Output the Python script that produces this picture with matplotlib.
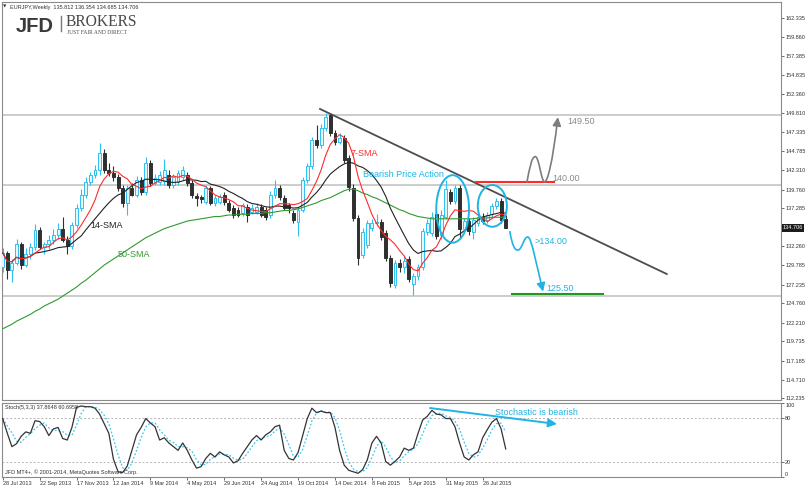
import numpy as np
import pandas as pd
import matplotlib
matplotlib.use('Agg')
import matplotlib.pyplot as plt
import matplotlib.transforms as mtransforms
from matplotlib.patches import Ellipse, FancyArrowPatch
from matplotlib.path import Path
from matplotlib.lines import Line2D
from matplotlib import font_manager


# EURJPY weekly candles, first bar = week of 28 Jul 2013
opens = [129.6, 131.4, 129.2, 130.1, 132.6, 129.8, 131.3, 132.2, 134.4, 132.2,
         132.6, 133.1, 133.8, 134.6, 133.1, 132.3, 135.1, 137.3, 139.1, 140.8,
         141.7, 142.3, 144.6, 142.3, 142.0, 141.4, 140.0, 138.0, 139.9, 139.1,
         141.0, 139.4, 143.2, 140.6, 140.8, 140.9, 141.7, 140.4, 140.8, 141.4,
         141.7, 140.6, 138.9, 138.8, 138.1, 139.9, 138.0, 138.1, 139.0, 138.0,
         137.3, 137.1, 136.7, 137.4, 136.8, 136.8, 137.4, 137.1, 136.4, 139.0,
         140.0, 138.7, 137.7, 136.7, 135.5, 137.1, 141.0, 142.8, 146.3, 145.6,
         147.9, 149.6, 147.2, 146.0, 146.6, 143.9, 140.0, 136.0, 131.1, 132.5,
         134.7, 135.3, 135.5, 134.0, 130.7, 127.2, 130.1, 129.5, 130.6, 127.3,
         128.3, 129.6, 134.2, 134.0, 136.5, 133.7, 136.2, 139.4, 138.3, 140.0,
         134.5, 135.6, 134.2, 135.4, 136.2, 135.7, 136.5, 137.6, 138.2, 135.812]
highs = [132.1, 131.6, 130.6, 133.2, 132.9, 132.0, 132.7, 135.2, 134.8, 132.9,
         133.7, 134.5, 135.3, 136.2, 133.6, 135.5, 137.8, 139.8, 141.4, 142.1,
         143.0, 145.9, 145.1, 143.3, 142.8, 141.8, 140.4, 140.4, 140.6, 141.5,
         141.4, 144.0, 143.6, 141.8, 142.2, 143.8, 142.3, 141.8, 142.3, 142.9,
         142.1, 141.0, 139.3, 139.1, 140.3, 140.2, 139.0, 139.2, 139.4, 138.4,
         137.7, 137.4, 138.0, 137.8, 137.8, 138.0, 137.8, 137.4, 139.5, 141.0,
         140.4, 139.0, 138.0, 137.1, 137.5, 141.4, 143.2, 146.7, 148.3, 148.4,
         149.8, 149.9, 147.6, 147.2, 147.0, 144.3, 140.5, 136.4, 134.7, 135.8,
         135.9, 136.5, 135.9, 134.4, 131.1, 130.5, 130.6, 131.0, 131.0, 128.8,
         130.0, 134.7, 135.9, 136.8, 137.0, 137.0, 141.0, 139.8, 140.4, 140.4,
         136.0, 136.0, 136.2, 136.6, 136.6, 136.8, 138.0, 138.6, 138.6, 136.354]
lows = [128.9, 128.0, 127.6, 129.8, 129.3, 129.5, 130.6, 131.8, 131.9, 131.2,
        131.9, 132.6, 133.3, 132.8, 131.2, 131.9, 134.7, 136.9, 138.7, 140.4,
        141.3, 141.7, 141.9, 141.6, 140.9, 139.6, 137.4, 136.4, 138.9, 138.8,
        139.0, 139.0, 140.2, 140.3, 140.4, 140.3, 140.0, 140.0, 140.4, 141.0,
        140.2, 138.6, 137.6, 138.0, 137.8, 137.7, 137.6, 137.8, 137.7, 136.8,
        136.0, 136.1, 136.3, 135.5, 136.5, 136.5, 136.1, 135.8, 136.0, 138.6,
        138.4, 137.0, 136.6, 135.3, 133.6, 136.8, 140.6, 142.4, 145.2, 145.2,
        147.5, 146.8, 145.6, 145.7, 143.3, 139.6, 135.6, 129.8, 130.7, 132.1,
        134.3, 134.9, 133.1, 130.3, 126.9, 126.8, 128.9, 128.8, 127.6, 125.9,
        127.8, 129.2, 133.7, 133.6, 133.2, 133.2, 135.9, 137.8, 137.9, 133.4,
        134.0, 133.8, 133.2, 135.0, 135.2, 135.3, 136.1, 137.2, 135.4, 134.685]
closes = [131.4, 129.2, 130.1, 132.6, 129.8, 131.3, 132.2, 134.4, 132.2, 132.6,
          133.1, 133.8, 134.6, 133.1, 132.3, 135.1, 137.3, 139.1, 140.8, 141.7,
          142.3, 144.6, 142.3, 142.0, 141.4, 140.0, 138.0, 139.9, 139.1, 141.0,
          139.4, 143.2, 140.6, 141.3, 141.7, 142.3, 140.4, 141.4, 141.9, 142.3,
          140.6, 139.0, 138.7, 138.5, 139.9, 138.0, 138.6, 138.8, 138.1, 137.1,
          136.4, 136.4, 137.7, 136.4, 137.3, 137.5, 136.4, 136.2, 139.0, 140.0,
          138.8, 137.3, 137.3, 135.7, 137.1, 141.0, 142.8, 146.3, 145.6, 147.9,
          149.3, 147.2, 146.0, 146.6, 143.7, 140.1, 136.0, 130.7, 134.2, 135.3,
          135.3, 135.5, 133.5, 130.7, 127.4, 130.1, 129.5, 130.3, 128.0, 128.4,
          129.6, 134.3, 135.4, 136.2, 133.6, 136.4, 139.8, 138.2, 140.0, 134.6,
          135.6, 134.3, 135.8, 136.2, 135.6, 136.4, 137.6, 138.2, 135.8, 134.706]

# 50-week SMA as it reads off the chart (its history starts before the first bar)
sma50 = [121.4, 121.7, 122.0, 122.4, 122.7, 123.0, 123.3, 123.7, 124.0, 124.4,
         124.7, 125.0, 125.3, 125.7, 126.1, 126.5, 126.9, 127.4, 127.8, 128.3,
         128.8, 129.3, 129.8, 130.2, 130.6, 131.0, 131.4, 131.8, 132.2, 132.6,
         133.0, 133.4, 133.7, 134.0, 134.3, 134.6, 134.8, 135.0, 135.2, 135.4,
         135.6, 135.7, 135.8, 135.9, 136.0, 136.1, 136.2, 136.2, 136.3, 136.4,
         136.4, 136.5, 136.5, 136.5, 136.6, 136.6, 136.6, 136.7, 136.7, 136.8,
         136.9, 137.0, 137.0, 137.1, 137.2, 137.4, 137.6, 137.8, 138.0, 138.3,
         138.5, 138.7, 139.0, 139.3, 139.6, 139.8, 139.8, 139.6, 139.3, 139.1,
         138.8, 138.6, 138.3, 138.0, 137.7, 137.4, 137.1, 136.9, 136.6, 136.4,
         136.2, 136.1, 136.0, 135.9, 135.9, 135.9, 135.9, 135.9, 135.9, 135.9,
         135.9, 135.9, 135.9, 136.0, 136.0, 136.0, 136.1, 136.1, 136.1, 136.2]

# Stochastic(5,3,3) main line
stoch_k = [79, 59, 41, 45, 55, 61, 59, 76, 75, 68,
           56, 65, 67, 52, 50, 67, 94, 96, 95, 95,
           93, 85, 72, 59, 24, 7, 6, 15, 36, 57,
           67, 79, 73, 68, 50, 53, 46, 41, 36, 46,
           36, 23, 12, 14, 25, 32, 27, 34, 30, 27,
           19, 22, 32, 41, 50, 56, 50, 57, 61, 68,
           70, 36, 25, 23, 33, 56, 79, 93, 87, 89,
           87, 87, 67, 36, 16, 9, 7, 5, 10, 23,
           46, 55, 46, 21, 16, 21, 27, 39, 36, 39,
           59, 77, 82, 90, 85, 84, 79, 79, 68, 46,
           27, 23, 30, 34, 53, 64, 74, 79, 65, 37.8648]
stoch_d_last = 60.6958

date_labels = ['28 Jul 2013', '22 Sep 2013', '17 Nov 2013', '12 Jan 2014', '9 Mar 2014',
               '4 May 2014', '29 Jun 2014', '24 Aug 2014', '19 Oct 2014', '14 Dec 2014',
               '8 Feb 2015', '5 Apr 2015', '31 May 2015', '26 Jul 2015']
price_ticks = [162.335, 159.860, 157.385, 154.835, 152.360, 149.810, 147.335, 144.785,
               142.310, 139.760, 137.285, 132.260, 129.785, 127.235, 124.760, 122.210,
               119.735, 117.185, 114.710, 112.235]
levels = [149.6, 140.35, 125.75]
last_price = 134.706

CYAN = '#1eb4e6'
BULL_EDGE = '#2ec0ef'
BULL_FILL = '#e4f7fd'
BEAR = '#303030'
W, H = 806, 488

names = {f.name for f in font_manager.fontManager.ttflist}
if 'Liberation Sans Narrow' in names:
    SMALL_FONT, SMALL, LOGO_FONT, LOGO = 'Liberation Sans Narrow', 4.8, 'Liberation Sans Narrow', 17.5
else:
    SMALL_FONT, SMALL, LOGO_FONT, LOGO = 'Liberation Sans', 4.0, 'Liberation Sans', 14.5
ANNO = 6.5
plt.rcParams['font.family'] = ['Liberation Sans', 'DejaVu Sans']


def rect(x0, y0, x1, y1):
    return [x0 / W, 1 - y1 / H, (x1 - x0) / W, (y1 - y0) / H]


def arrow(ax, path=None, posA=None, posB=None, color=CYAN, lw=1.2):
    style = '-|>,head_length=5,head_width=2.5'
    if path is not None:
        p = FancyArrowPatch(path=path, arrowstyle=style, color=color, lw=lw,
                            transform=ax.transData, zorder=7)
    else:
        p = FancyArrowPatch(posA, posB, arrowstyle=style, color=color, lw=lw,
                            shrinkA=0, shrinkB=0, mutation_scale=1, zorder=7)
    ax.add_patch(p)


def style_axes(ax):
    for spine in ax.spines.values():
        spine.set_color('#8a8a8a')
        spine.set_linewidth(0.8)
    ax.yaxis.tick_right()
    ax.tick_params(axis='y', direction='out', length=2, width=0.6, color='#555555',
                   pad=1, labelsize=SMALL, labelcolor='#333333')
    for lab in ax.get_yticklabels():
        lab.set_fontfamily(SMALL_FONT)


def draw_candles(ax):
    x = np.arange(len(closes))
    o = np.array(opens)
    h = np.array(highs)
    l = np.array(lows)
    c = np.array(closes)
    up = c >= o
    body_lo = np.minimum(o, c)
    body_h = np.maximum(np.abs(c - o), 0.08)

    ax.vlines(x[up], l[up], h[up], color=BULL_EDGE, lw=0.8, zorder=3)
    ax.vlines(x[~up], l[~up], h[~up], color=BEAR, lw=0.8, zorder=3)
    ax.bar(x[up], body_h[up], bottom=body_lo[up], width=0.62, color=BULL_FILL,
           edgecolor=BULL_EDGE, lw=0.7, zorder=4)
    ax.bar(x[~up], body_h[~up], bottom=body_lo[~up], width=0.62, color=BEAR,
           edgecolor=BEAR, lw=0.7, zorder=4)


def draw_main(ax):
    ax.set_xlim(-0.26, 168.65)
    ax.set_ylim(112.01, 164.48)

    for lv in levels:
        ax.axhline(lv, color='#c4c4c4', lw=1.2, zorder=1)

    draw_candles(ax)

    x = np.arange(len(closes))
    s = pd.Series(closes)
    ax.plot(x, sma50, color='#2f9a2f', lw=0.8, zorder=5)
    ax.plot(x, s.rolling(14, min_periods=1).mean(), color='#222222', lw=0.8, zorder=5)
    ax.plot(x, s.rolling(7, min_periods=1).mean(), color='#ff2b2b', lw=0.8, zorder=5)

    # price axis
    ax.set_xticks([])
    ax.set_yticks(price_ticks)
    ax.set_yticklabels([f'{v:.3f}' for v in price_ticks])
    style_axes(ax)
    tr = mtransforms.blended_transform_factory(ax.transAxes, ax.transData)
    ax.text(1.0025, last_price, f'{last_price:.3f}', transform=tr, ha='left', va='center',
            fontsize=SMALL, family=SMALL_FONT, color='white', zorder=10, clip_on=False,
            bbox=dict(facecolor='#1c1c1c', edgecolor='none', pad=0.9))

    # drawings
    ax.plot([68.75, 143.9], [150.38, 128.62], color='#4d4d4d', lw=1.3, zorder=6)
    ax.plot([102.6, 119.5], [140.75, 140.75], color='#ff2b2b', lw=1.5, zorder=6)
    ax.plot([110.4, 130.1], [125.95, 125.95], color='#1f9a1f', lw=1.5, zorder=6)

    ax.add_patch(Ellipse((97.5, 137.2), 7.1, 8.9, fill=False, ec=CYAN, lw=1.4, zorder=7))
    ax.add_patch(Ellipse((106.1, 137.6), 6.3, 5.5, fill=False, ec=CYAN, lw=1.4, zorder=7))

    C4 = Path.CURVE4
    gray_path = Path([(113.6, 140.75),
                      (114.2, 142.6), (114.6, 144.1), (115.4, 144.1),
                      (116.2, 144.1), (116.6, 141.2), (117.3, 140.8),
                      (118.0, 140.4), (119.2, 143.5), (120.3, 149.3)],
                     [Path.MOVETO] + [C4] * 9)
    arrow(ax, path=gray_path, color='#7d7d7d')
    cyan_path = Path([(109.9, 134.2),
                      (110.4, 132.4), (111.0, 131.6), (111.8, 131.8),
                      (112.6, 132.0), (113.0, 133.6), (113.8, 133.5),
                      (114.6, 133.4), (115.6, 130.0), (117.1, 126.3)],
                     [Path.MOVETO] + [C4] * 9)
    arrow(ax, path=cyan_path, color=CYAN)

    ax.text(75.3, 144.57, '7-SMA', color='#ff2b2b', fontsize=ANNO, va='center', zorder=8)
    ax.text(18.9, 134.95, '14-SMA', color='#222222', fontsize=ANNO, va='center', zorder=8)
    ax.text(25.0, 131.13, '50-SMA', color='#2f9a2f', fontsize=ANNO, va='center', zorder=8)
    ax.text(78.1, 141.68, 'Bearish Price Action', color=CYAN, fontsize=ANNO, va='center', zorder=8)
    ax.text(122.3, 148.66, '149.50', color='#8a8a8a', fontsize=ANNO, va='center', zorder=8)
    ax.text(119.2, 141.25, '140.00', color='#8a8a8a', fontsize=ANNO, va='center', zorder=8)
    ax.text(115.3, 132.84, '>134.00', color=CYAN, fontsize=ANNO, va='center', zorder=8)
    ax.text(117.9, 126.66, '125.50', color=CYAN, fontsize=ANNO, va='center', zorder=8)


def draw_stoch(ax):
    ax.set_xlim(-0.26, 168.65)
    ax.set_ylim(0, 100)
    x = np.arange(len(stoch_k))
    k = pd.Series(stoch_k)
    for lv in (80, 20):
        ax.axhline(lv, color='#b4b4b4', lw=0.7, ls=(0, (2, 2)), zorder=1)
    ax.plot(x, k.rolling(3, min_periods=1).mean(), color='#3cc8f0', lw=0.9, ls=(0, (1.5, 1.5)), zorder=3)
    ax.plot(x, k, color='#333333', lw=0.9, zorder=4)

    arrow(ax, posA=(92.6, 93.2), posB=(120.1, 71.6), color=CYAN, lw=1.4)
    ax.text(106.7, 87.8, 'Stochastic is bearish', color=CYAN, fontsize=ANNO, va='center')

    ax.set_yticks([0, 20, 80, 100])
    ax.set_yticklabels(['0', '20', '80', '100'])
    style_axes(ax)
    labs = ax.get_yticklabels()
    labs[0].set_va('bottom')
    labs[3].set_va('top')

    ax.set_xticks(np.arange(len(date_labels)) * 8)
    ax.set_xticklabels(date_labels, ha='left')
    ax.tick_params(axis='x', direction='out', length=2, width=0.6, color='#555555', pad=1,
                   labelsize=SMALL, labelcolor='#333333')
    for lab in ax.get_xticklabels():
        lab.set_fontfamily(SMALL_FONT)

    ax.text(0.004, 0.97, f'Stoch(5,3,3) {stoch_k[-1]:.4f} {stoch_d_last:.4f}',
            transform=ax.transAxes, fontsize=SMALL, family=SMALL_FONT, color='#333333', va='top')
    ax.text(0.004, 0.03, 'JFD MT4+, \u00a9 2001-2014, MetaQuotes Software Corp.',
            transform=ax.transAxes, fontsize=SMALL, family=SMALL_FONT, color='#333333', va='bottom')


def draw_header(fig):
    fig.text(3 / W, 1 - 7 / H, '\u25bc', fontsize=3.2, family='DejaVu Sans', color='#333333', va='center')
    fig.text(10 / W, 1 - 7 / H,
             f'EURJPY,Weekly  {opens[-1]:.3f} {highs[-1]:.3f} {lows[-1]:.3f} {closes[-1]:.3f}',
             fontsize=SMALL, family=SMALL_FONT, color='#333333', va='center')
    fig.text(16 / W, 1 - 32 / H, 'JFD', fontsize=LOGO, family=LOGO_FONT, fontweight='bold',
             color='#3a3a3a', va='baseline')
    fig.add_artist(Line2D([61 / W, 61 / W], [1 - 16 / H, 1 - 31 / H], color='#7a7a7a', lw=1.0))
    fig.text(66 / W, 1 - 26.5 / H, 'BROKERS', fontsize=11.2, family='Liberation Serif',
             color='#4a4a4a', va='baseline')
    fig.text(67 / W, 1 - 34 / H, 'JUST FAIR AND DIRECT', fontsize=4.0, family='Liberation Serif',
             color='#4a4a4a', va='baseline')


def main():
    fig = plt.figure(figsize=(W / 100, H / 100), dpi=100)
    fig.patch.set_facecolor('white')
    ax = fig.add_axes(rect(1.5, 2, 781, 400))
    axs = fig.add_axes(rect(1.5, 403, 781, 477))
    draw_main(ax)
    draw_stoch(axs)
    draw_header(fig)
    fig.savefig('out.png', dpi=100)


if __name__ == '__main__':
    main()
